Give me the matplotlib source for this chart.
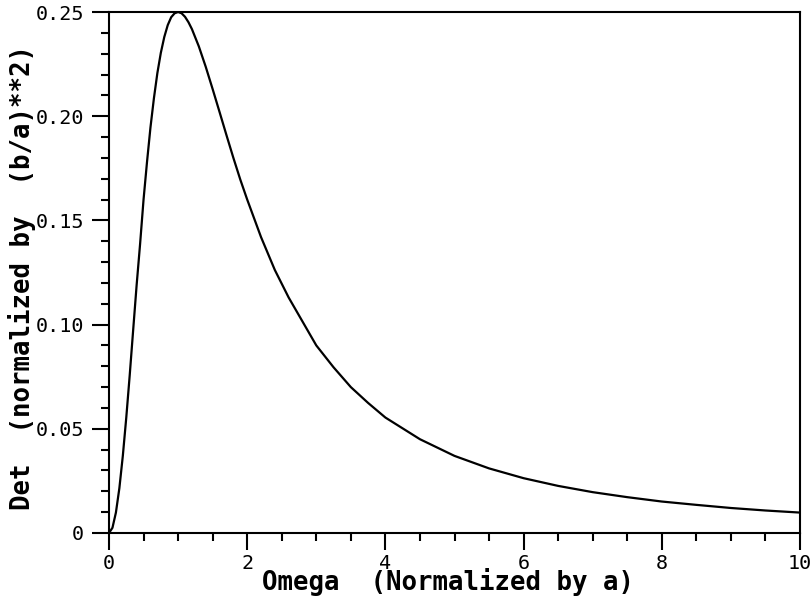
import numpy as np
import matplotlib
matplotlib.use("Agg")
import matplotlib.pyplot as plt
from matplotlib.ticker import MultipleLocator, FixedFormatter, FixedLocator

# Werte
omega = [0.0, 0.05, 0.1, 0.15, 0.2, 0.25, 0.3, 0.35, 0.4, 0.45, 0.5, 0.55,
         0.6, 0.65, 0.7, 0.75, 0.8, 0.85, 0.9, 0.95, 1.0, 1.05, 1.1, 1.15,
         1.2, 1.3, 1.4, 1.5, 1.6, 1.7, 1.8, 1.9, 2.0, 2.2, 2.4, 2.6, 2.8,
         3.0, 3.25, 3.5, 3.75, 4.0, 4.5, 5.0, 5.5, 6.0, 6.5, 7.0, 7.5, 8.0,
         8.5, 9.0, 9.5, 10.0]
det = [0.0, 0.0025, 0.0098, 0.0215, 0.037, 0.0554, 0.0758, 0.0975, 0.119,
       0.1387, 0.160, 0.178, 0.1946, 0.2086, 0.2207, 0.2304, 0.2380, 0.2437,
       0.2475, 0.2494, 0.250, 0.2494, 0.2477, 0.2451, 0.2418, 0.2335, 0.2237,
       0.2130, 0.2020, 0.1909, 0.1800, 0.1696, 0.160, 0.1420, 0.1262, 0.1130,
       0.1015, 0.090, 0.0795, 0.0700, 0.0624, 0.0554, 0.0450, 0.0370, 0.0310,
       0.0263, 0.0226, 0.0196, 0.0172, 0.0151, 0.0135, 0.0120, 0.0108, 0.0098]

xticks = [0, 2, 4, 6, 8, 10]
xticklabels = ["0", "2", "4", "6", "8", "10"]
yticks = [0, 0.05, 0.10, 0.15, 0.20, 0.25]
yticklabels = ["0", "0.05", "0.10", "0.15", "0.20", "0.25"]

plt.rcParams['font.family'] = ['DejaVu Sans Mono']

fig = plt.figure(figsize=(8.11, 6.03), dpi=100)
ax = fig.add_axes([109 / 811, 70 / 603, 691 / 811, 521 / 603])

ax.plot(omega, det, color="black", linewidth=1.6)

ax.set_xlim(0, 10)
ax.set_ylim(0, 0.25)

ax.xaxis.set_major_locator(FixedLocator(xticks))
ax.xaxis.set_major_formatter(FixedFormatter(xticklabels))
ax.xaxis.set_minor_locator(MultipleLocator(0.5))
ax.yaxis.set_major_locator(FixedLocator(yticks))
ax.yaxis.set_major_formatter(FixedFormatter(yticklabels))
ax.yaxis.set_minor_locator(MultipleLocator(0.01))

ax.tick_params(which="major", direction="out", length=12, width=1.5,
               labelsize=14.5, top=False, right=False)
ax.tick_params(which="minor", direction="out", length=6, width=1.5,
               top=False, right=False)
ax.tick_params(axis="y", which="major", pad=6)
ax.tick_params(axis="x", which="major", pad=3)

for s in ax.spines.values():
    s.set_linewidth(1.5)

ax.set_xlabel("Omega  (Normalized by a)", fontsize=18.5, fontweight="bold")
ax.set_ylabel("Det  (normalized by  (b/a)**2)", fontsize=18.5, fontweight="bold")
ax.xaxis.set_label_coords(339 / 691, -35 / 521)
ax.yaxis.set_label_coords(-73 / 691, 0.49)

plt.savefig("out.png", dpi=100)
